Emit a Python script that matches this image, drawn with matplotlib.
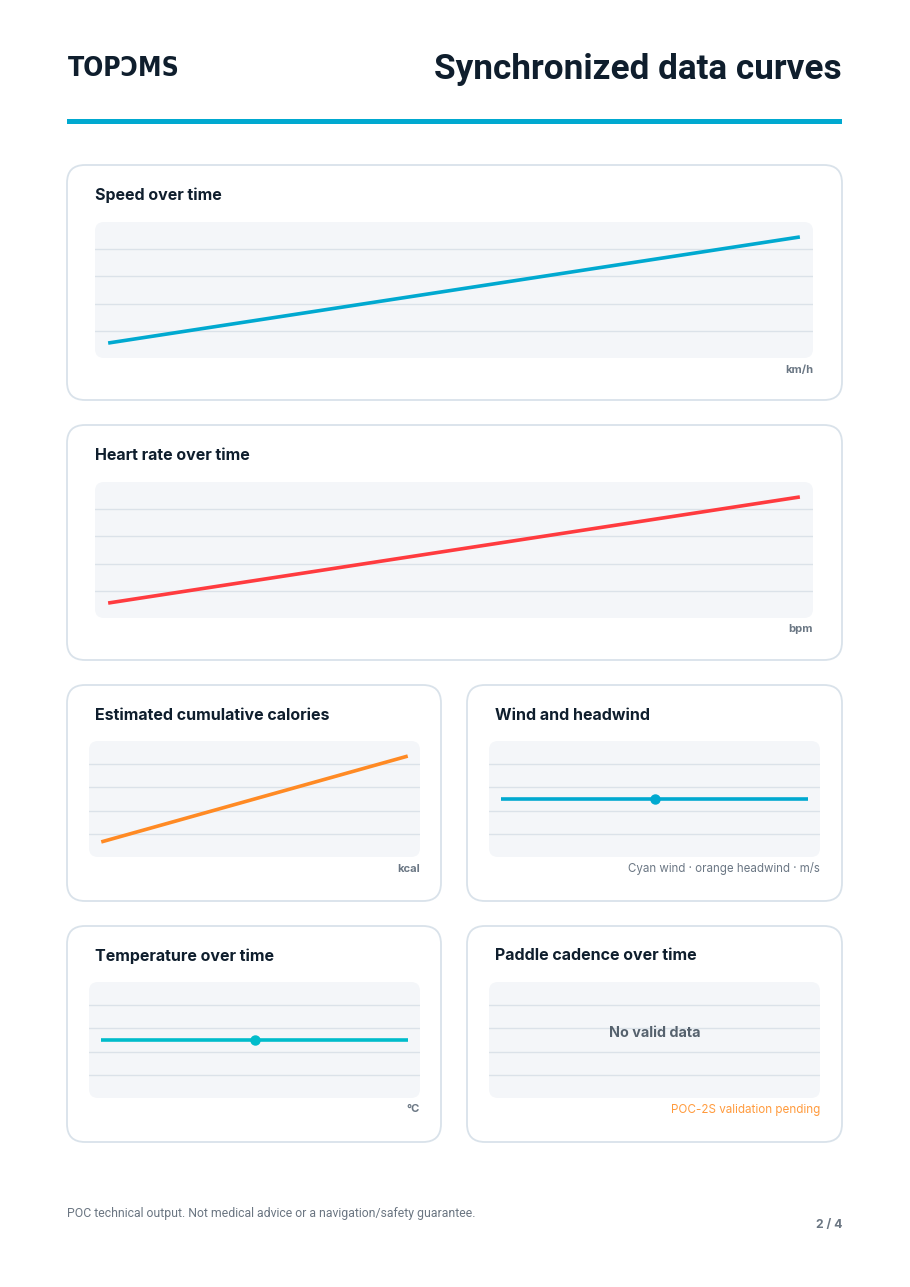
import numpy as np
import matplotlib
matplotlib.use("Agg")
import matplotlib.pyplot as plt
from matplotlib.patches import FancyBboxPatch

# =============================================================================
# Data
# =============================================================================
speed_t = [0, 15, 30, 45, 60]
speed_kmh = [4.0, 5.5, 7.0, 8.5, 10.0]

hr_t = [0, 15, 30, 45, 60]
hr_bpm = [92, 105, 118, 131, 144]

cal_t = [0, 15, 30, 45, 60]
cal_kcal = [0, 95, 190, 285, 380]

wind_t = [0, 30, 60]
wind_ms = [3.0, 3.0, 3.0]

temp_t = [0, 30, 60]
temp_c = [18.0, 18.0, 18.0]

# =============================================================================
# Page setup (pixel coordinates, origin top-left)
# =============================================================================
W, H = 910, 1287
fig = plt.figure(figsize=(W / 100, H / 100), dpi=100)
fig.patch.set_facecolor("white")

DARK = "#0f1e2d"
GREY = "#6b7784"
CYAN = "#00a9d0"
BORDER = "#d9e2ea"
PLOTBG = "#f4f6f9"
GRID = "#dbe2e9"
FONT = "Inter"


def fx(x):
    return x / W


def fy(y):
    return 1 - y / H


# helper axis covering whole figure in pixel units
bg = fig.add_axes([0, 0, 1, 1])
bg.set_xlim(0, W)
bg.set_ylim(H, 0)
bg.axis("off")


def card(x0, y0, x1, y1):
    bg.add_patch(FancyBboxPatch((x0, y0), x1 - x0, y1 - y0,
                                boxstyle="round,pad=0,rounding_size=18",
                                fc="white", ec=BORDER, lw=1.3, zorder=1))


def chart(x0, y0, x1, y1, title, tx, ty, xs, ys, color, xpad, yfrac,
          unit=None, unit_color=GREY, unit_bold=True, unit_size=8.0,
          mark_mid=False, empty=None):
    bg.add_patch(FancyBboxPatch((x0, y0), x1 - x0, y1 - y0,
                                boxstyle="round,pad=0,rounding_size=9",
                                fc=PLOTBG, ec="none", zorder=2))
    bg.text(tx, ty + 1, title, fontsize=11.5, fontweight="bold", color=DARK,
            family=FONT, va="center", ha="left", zorder=5)
    ax = fig.add_axes([fx(x0), fy(y1), fx(x1 - x0), (y1 - y0) / H])
    ax.patch.set_alpha(0)
    for s in ax.spines.values():
        s.set_visible(False)
    ax.set_xticks([])
    ax.set_yticks([])
    for g in [0.2, 0.4, 0.6, 0.8]:
        ax.plot([0, 1], [g, g], color=GRID, lw=1.0, zorder=1,
                transform=ax.transAxes)
    if xs is not None:
        xs = np.asarray(xs, float)
        ys = np.asarray(ys, float)
        span = xs.max() - xs.min()
        ax.set_xlim(xs.min() - span * xpad, xs.max() + span * xpad)
        lo, hi = yfrac
        if ys.max() > ys.min():
            yspan = ys.max() - ys.min()
            ylo = ys.min() - yspan * lo / (hi - lo)
            yhi = ys.max() + yspan * (1 - hi) / (hi - lo)
        else:
            ylo, yhi = ys[0] - 1, ys[0] + 1
        ax.set_ylim(ylo, yhi)
        ax.plot(xs, ys, color=color, lw=2.6, solid_capstyle="butt", zorder=3)
        if mark_mid:
            m = len(xs) // 2
            ax.plot(xs[m], ys[m], "o", color=color, ms=6.5, zorder=4)
    if empty:
        ax.text(0.5, 0.56, empty, transform=ax.transAxes, ha="center",
                va="center", fontsize=10.3, fontweight="bold", color="#56626e",
                family=FONT)
    if unit:
        bg.text(x1, y1 + 11.5, unit, fontsize=unit_size,
                fontweight="bold" if unit_bold else "normal",
                color=unit_color, family=FONT, ha="right", va="center",
                zorder=5)
    return ax


# =============================================================================
# Header
# =============================================================================
bg.text(68, 69, "TOPƆMS", fontsize=19, fontweight="bold", color=DARK,
        family="DejaVu Sans", fontstretch="condensed", va="center", ha="left")
bg.text(842, 69, "Synchronized data curves", fontsize=25.3, fontweight="bold",
        color=DARK, family="Roboto", va="center", ha="right")
bg.add_patch(plt.Rectangle((67, 119), 775, 4.5, fc=CYAN, ec="none"))

# =============================================================================
# Cards
# =============================================================================
card(67, 165, 842, 400)
chart(95, 222, 813, 358, "Speed over time", 95, 194, speed_t, speed_kmh,
      CYAN, 0.019, (0.11, 0.89), unit="km/h")

card(67, 425, 842, 660)
chart(95, 482, 813, 618, "Heart rate over time", 95, 454, hr_t, hr_bpm,
      "#ff3b3f", 0.019, (0.11, 0.89), unit="bpm")

card(67, 685, 441, 901)
chart(89, 741, 420, 857, "Estimated cumulative calories", 95, 714, cal_t,
      cal_kcal, "#ff8a24", 0.04, (0.13, 0.87), unit="kcal")

card(467, 685, 842, 901)
chart(489, 741, 820, 857, "Wind and headwind", 495, 714, wind_t, wind_ms,
      CYAN, 0.04, (0.1, 0.9), unit="Cyan wind · orange headwind · m/s",
      unit_bold=False, unit_size=8.3, mark_mid=True)

card(67, 926, 441, 1142)
chart(89, 982, 420, 1098, "Temperature over time", 95, 955, temp_t, temp_c,
      "#00bccb", 0.04, (0.1, 0.9), unit="°C", mark_mid=True)

card(467, 926, 842, 1142)
chart(489, 982, 820, 1098, "Paddle cadence over time", 495, 955, None, None,
      None, 0, (0, 1), unit="POC-2S validation pending", unit_color="#ff9a3c",
      unit_bold=False, unit_size=8.4, empty="No valid data")

# =============================================================================
# Footer
# =============================================================================
bg.text(67, 1213, "POC technical output. Not medical advice or a "
        "navigation/safety guarantee.", fontsize=8.8, color="#6b7682",
        family="Roboto", fontstretch="condensed", va="center", ha="left")
bg.text(842, 1225, "2 / 4", fontsize=8.8, fontweight="bold", color="#6b7682",
        family=FONT, va="center", ha="right")

fig.savefig("out.png", dpi=100, facecolor="white")
